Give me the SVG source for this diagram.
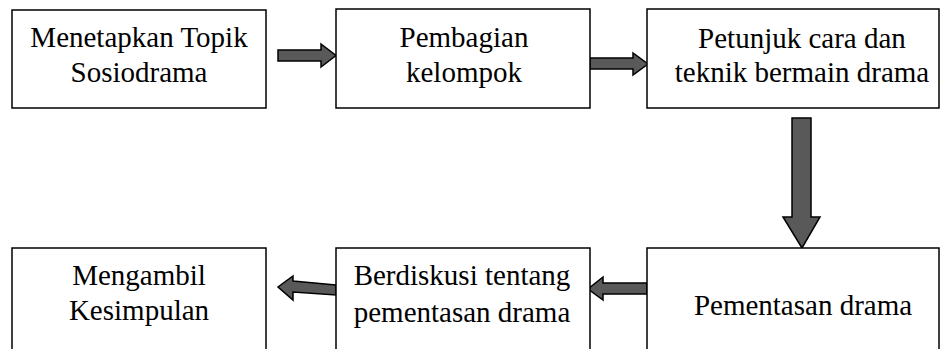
<svg xmlns="http://www.w3.org/2000/svg" width="943" height="349" viewBox="0 0 943 349">
<style>
.box{fill:#fff;stroke:#000;stroke-width:1.5}
.arr{fill:#595959;stroke:#000;stroke-width:1.5;stroke-linejoin:miter}
.t{font-family:'Liberation Serif','Times New Roman',serif;font-size:29px;fill:#000;text-anchor:middle}
</style>
<rect width="943" height="349" fill="#fff"/>
<g id="connectors">
<polygon class="arr" points="278,50 321,50 321,44 336,55.5 321,67 321,61 278,61"/>
<polygon class="arr" points="590,58 633,58 633,53 648,64 633,75 633,69 590,69"/>
<polygon class="arr" points="792,118 811,118 811,217 820,217 802,248 783,217 792,217"/>
<polygon class="arr" points="647,283 603,283 603,277 588,289 603,300 603,294 647,294"/>
<polygon class="arr" points="336,285 293,281 293,276 278,287 293,300 293,292 336,295"/>
</g>
<g id="n1"><rect class="box" x="12" y="10" width="254" height="98"/><text class="t" x="139" y="47">Menetapkan Topik</text><text class="t" x="139" y="82">Sosiodrama</text></g>
<g id="n2"><rect class="box" x="336" y="9" width="254" height="99"/><text class="t" x="464" y="47">Pembagian</text><text class="t" x="464" y="82">kelompok</text></g>
<g id="n3"><rect class="box" x="647" y="9" width="292" height="99"/><text class="t" x="802" y="48">Petunjuk cara dan</text><text class="t" x="802" y="82">teknik bermain drama</text></g>
<g id="n4"><rect class="box" x="647" y="248" width="292" height="120"/><text class="t" x="803" y="315">Pementasan drama</text></g>
<g id="n5"><rect class="box" x="336" y="248" width="254" height="120"/><text class="t" x="462" y="285">Berdiskusi tentang</text><text class="t" x="462" y="322">pementasan drama</text></g>
<g id="n6"><rect class="box" x="12" y="248" width="254" height="120"/><text class="t" x="139" y="285">Mengambil</text><text class="t" x="139" y="320">Kesimpulan</text></g>
</svg>
